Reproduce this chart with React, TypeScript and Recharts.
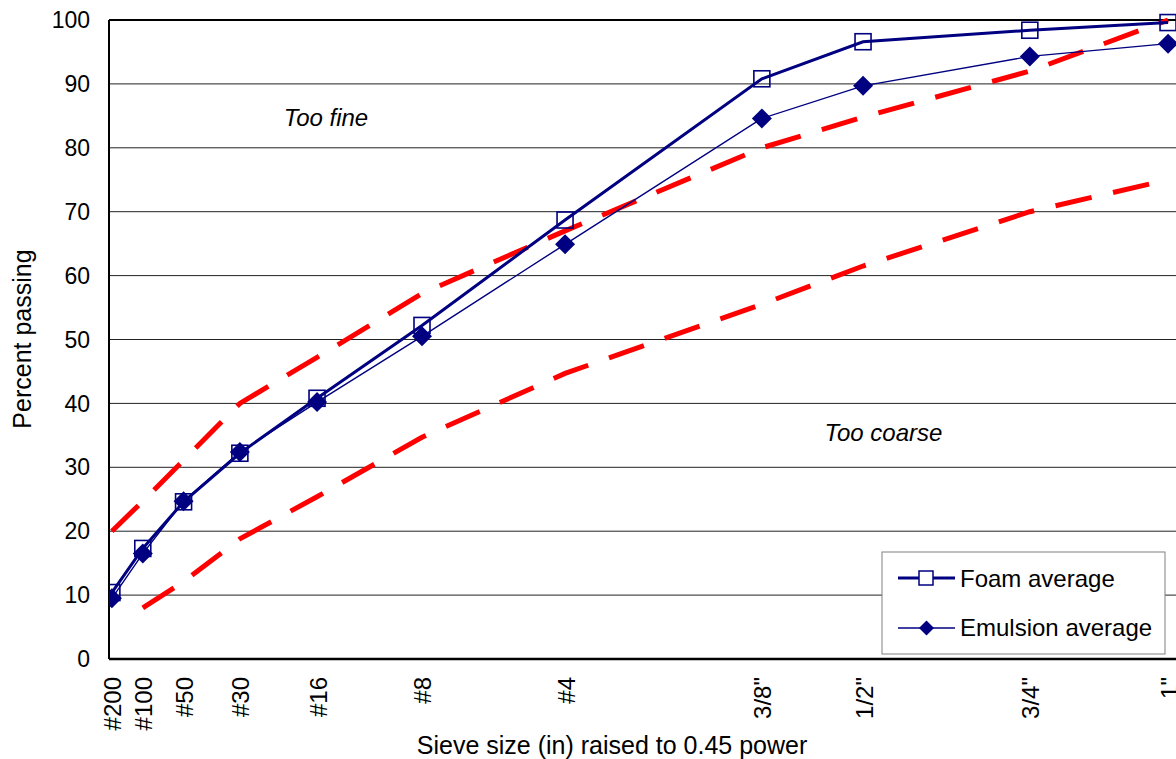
import {
    LineChart,
    Line,
    XAxis,
    YAxis,
    CartesianGrid,
    ReferenceLine,
    ReferenceDot,
} from 'recharts';

const FONT = '"Liberation Sans", Arial, sans-serif';
const NAVY = '#000080';
const RED = '#FF0000';

// sieve sizes, in inches
const sieveLabels = ['#200', '#100', '#50', '#30', '#16', '#8', '#4', '3/8"', '1/2"', '3/4"', '1"'];
const sieveSizesIn = [0.0029, 0.0059, 0.0117, 0.0234, 0.0469, 0.0937, 0.187, 0.375, 0.5, 0.75, 1];

const foamAverage = [10.4, 17.3, 24.6, 32.2, 40.8, 52.2, 68.7, 90.8, 96.6, 98.4, 99.6];
const emulsionAverage = [9.5, 16.5, 24.7, 32.4, 40.2, 50.5, 64.9, 84.6, 89.7, 94.3, 96.3];
const upperLimit = [20, 24.7, 31.1, 40, 47.2, 57.2, 67, 80, 84.8, 92, 100];
const lowerLimit = [null, 8, 12.1, 18.8, 25.4, 34.7, 44.7, 55.5, 61.5, 70, 75];

const yTicks = [0, 10, 20, 30, 40, 50, 60, 70, 80, 90, 100];

const POWER = 0.45;

const data = sieveLabels.map((label, i) => ({
    label,
    x: Math.pow(sieveSizesIn[i], POWER),
    foam: foamAverage[i],
    emulsion: emulsionAverage[i],
    upper: upperLimit[i],
    lower: lowerLimit[i],
}));

const xTicks = data.map(d => d.x);
const labelFor = (v: number) => {
    const hit = data.find(d => Math.abs(d.x - v) < 1e-9);
    return hit ? hit.label : '';
};

const FoamDot = (props: any) => {
    const { cx, cy, index } = props;
    if (cx == null || cy == null) return <g key={`f-${index}`} />;
    return (
        <rect key={`f-${index}`} x={cx - 8} y={cy - 8} width={16} height={16}
            fill="none" stroke={NAVY} strokeWidth={1.6} />
    );
};

const EmulsionDot = (props: any) => {
    const { cx, cy, index } = props;
    if (cx == null || cy == null) return <g key={`e-${index}`} />;
    return (
        <polygon key={`e-${index}`}
            points={`${cx},${cy - 10} ${cx + 10},${cy} ${cx},${cy + 10} ${cx - 10},${cy}`}
            fill={NAVY} />
    );
};

const SieveTick = (props: any) => {
    const { x, y, payload } = props;
    return (
        <text x={x + 1} y={y + 10} transform={`rotate(-90, ${x + 1}, ${y + 10})`}
            textAnchor="end" dominantBaseline="central"
            fontFamily={FONT} fontSize={24} fill="#000">
            {labelFor(payload.value)}
        </text>
    );
};

const italicNote = (text: string) => (props: any) => {
    const vb = props.viewBox;
    return (
        <text x={vb.x + vb.width / 2} y={vb.y + vb.height / 2}
            textAnchor="middle" dominantBaseline="central"
            fontFamily={FONT} fontSize={24} fontStyle="italic" fill="#000">
            {text}
        </text>
    );
};

const LegendBox = () => (
    <svg width={286} height={105} style={{ position: 'absolute', left: 881, top: 551 }}>
        <rect x={1} y={1} width={283} height={102} fill="#fff" stroke="#808080" strokeWidth={1} />
        <line x1={17} y1={27} x2={74} y2={27} stroke={NAVY} strokeWidth={3} />
        <rect x={38} y={20} width={14} height={14} fill="#fff" stroke={NAVY} strokeWidth={1.5} />
        <text x={79} y={27} dominantBaseline="central" fontFamily={FONT} fontSize={24}>Foam average</text>
        <line x1={17} y1={77} x2={74} y2={77} stroke={NAVY} strokeWidth={1.5} />
        <polygon points="45.5,69.5 53,77 45.5,84.5 38,77" fill={NAVY} />
        <text x={79} y={76} dominantBaseline="central" fontFamily={FONT} fontSize={24}>Emulsion average</text>
    </svg>
);

export default function App() {
    return (
        <div style={{ position: 'absolute', left: 0, top: 0, width: 1176, height: 759, overflow: 'hidden', background: '#fff' }}>
            <LineChart width={1190} height={759} data={data}
                margin={{ top: 20, right: 10, bottom: 0, left: 0 }}>
                <CartesianGrid vertical={false} stroke="#222" strokeWidth={1} />
                <XAxis
                    dataKey="x"
                    type="number"
                    domain={[0.0696, 1.0105]}
                    allowDataOverflow
                    ticks={xTicks}
                    interval={0}
                    height={100}
                    tick={<SieveTick />}
                    tickLine={false}
                    axisLine={{ stroke: '#000', strokeWidth: 2.5 }}
                    label={{
                        content: () => (
                            <text x={612} y={745} textAnchor="middle" dominantBaseline="central"
                                fontFamily={FONT} fontSize={25} fill="#000">
                                Sieve size (in) raised to 0.45 power
                            </text>
                        ),
                    }}
                />
                <YAxis
                    type="number"
                    domain={[0, 100]}
                    ticks={yTicks}
                    interval={0}
                    width={109}
                    tickLine={false}
                    tickSize={0}
                    tickMargin={19}
                    axisLine={{ stroke: '#000', strokeWidth: 2 }}
                    tick={{ fontFamily: FONT, fontSize: 23, fill: '#000' }}
                    label={{
                        content: () => (
                            <text x={22} y={339} transform="rotate(-90, 22, 339)" textAnchor="middle"
                                dominantBaseline="central" fontFamily={FONT} fontSize={25} fill="#000">
                                Percent passing
                            </text>
                        ),
                    }}
                />
                <ReferenceLine y={100} stroke="#000" strokeWidth={2} />

                <Line dataKey="upper" stroke={RED} strokeWidth={5} strokeDasharray="37 22"
                    dot={false} isAnimationActive={false} />
                <Line dataKey="lower" stroke={RED} strokeWidth={5} strokeDasharray="37 22"
                    dot={false} isAnimationActive={false} />
                <Line dataKey="foam" stroke={NAVY} strokeWidth={3}
                    dot={FoamDot} isAnimationActive={false} />
                <Line dataKey="emulsion" stroke={NAVY} strokeWidth={1.4}
                    dot={EmulsionDot} isAnimationActive={false} />

                <ReferenceDot x={0.2602} y={84.8} r={1} fill="none" stroke="none"
                    label={{ content: italicNote('Too fine') }} />
                <ReferenceDot x={0.75} y={35.5} r={1} fill="none" stroke="none"
                    label={{ content: italicNote('Too coarse') }} />
            </LineChart>
            <LegendBox />
        </div>
    );
}
